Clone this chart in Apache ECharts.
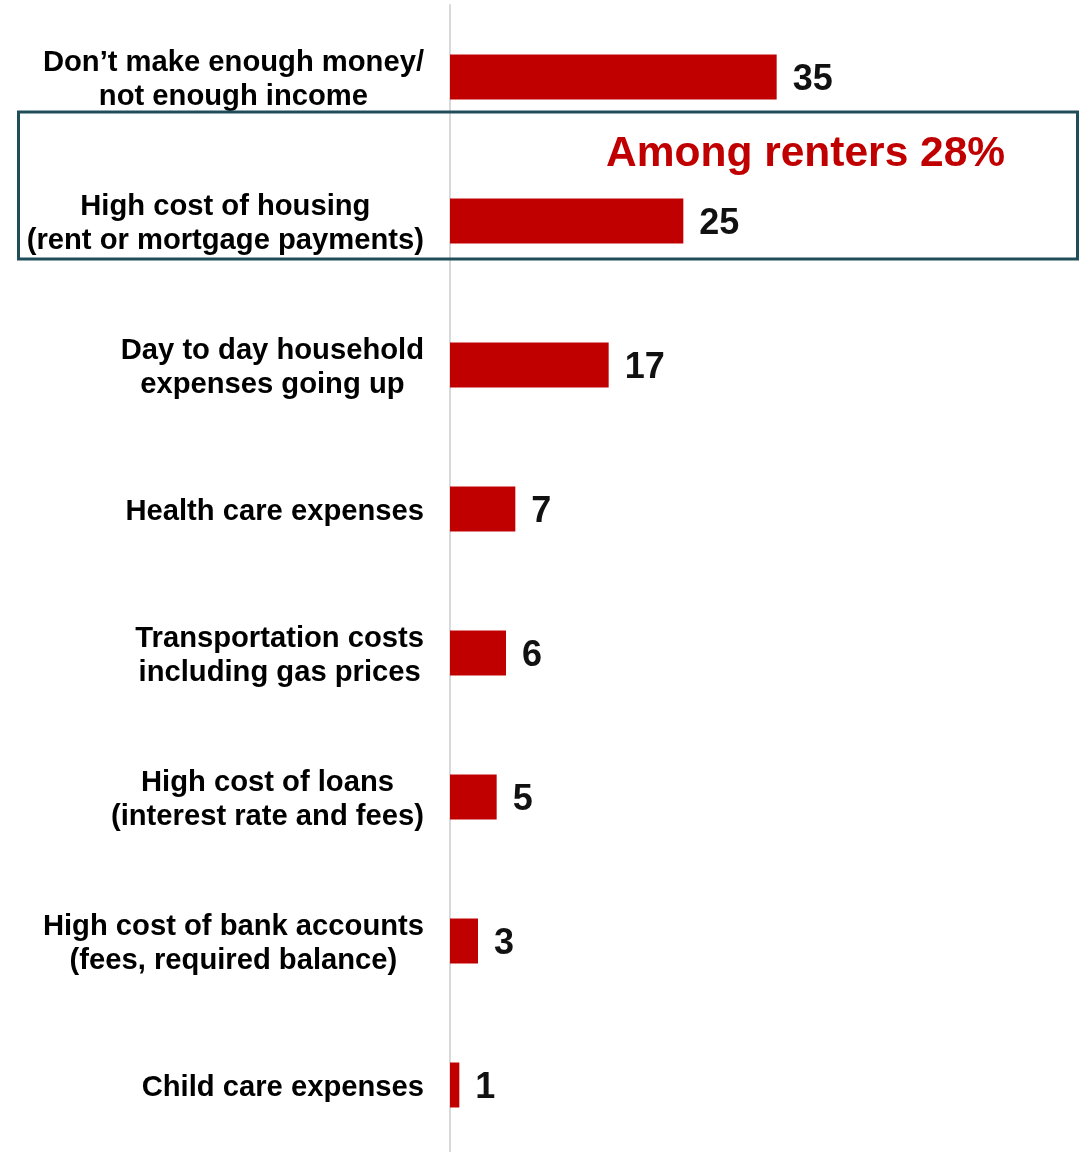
<!DOCTYPE html>
<html>
<head>
<meta charset="utf-8">
<script src="https://cdn.jsdelivr.net/npm/echarts@6/dist/echarts.min.js"></script>
<style>
  html, body { margin: 0; padding: 0; background: #fff; overflow: hidden; }
  /* canvas runs slightly past the bottom edge so the last band keeps its full height */
  #chart { width: 1089px; height: 1160px; }
</style>
</head>
<body>
<div id="chart"></div>
<script>
// Reasons cited for financial strain (% of respondents)
const categories = [
  'Don\u2019t make enough money/\nnot enough income',
  'High cost of housing\n(rent or mortgage payments)',
  'Day to day household\nexpenses going up',
  'Health care expenses',
  'Transportation costs\nincluding gas prices',
  'High cost of loans\n(interest rate and fees)',
  'High cost of bank accounts\n(fees, required balance)',
  'Child care expenses'
];
const values = [35, 25, 17, 7, 6, 5, 3, 1];

// Callout for the housing row
const highlightCategory = 'High cost of housing\n(rent or mortgage payments)';
const highlightText = 'Among renters 28%';

const FONT = '"Liberation Sans", Arial, Helvetica, sans-serif';
const RED = '#C00000';

const chart = echarts.init(document.getElementById('chart'), null, { renderer: 'canvas' });

chart.setOption({
  animation: false,
  backgroundColor: '#ffffff',
  grid: { left: 450, top: 5, width: 560, height: 1152, containLabel: false },
  xAxis: {
    type: 'value',
    min: 0,
    max: 60,
    show: false
  },
  yAxis: {
    type: 'category',
    data: categories,
    inverse: true,
    axisLine: { show: true, lineStyle: { color: '#d9d9d9', width: 2 } },
    axisTick: { show: false },
    splitLine: { show: false },
    axisLabel: {
      margin: 26,
      formatter: function (v) { return '{c|' + v + '}'; },
      rich: {
        c: {
          align: 'center',
          fontFamily: FONT,
          fontWeight: 'bold',
          fontSize: 29.2,
          lineHeight: 34,
          padding: [6, 0, 0, 0],
          color: '#000000'
        }
      }
    }
  },
  series: [{
    type: 'bar',
    data: values,
    barWidth: 45,
    itemStyle: { color: RED },
    label: {
      show: true,
      position: 'right',
      distance: 16,
      offset: [0, 3],
      fontFamily: FONT,
      fontWeight: 'bold',
      fontSize: 36,
      color: '#111111'
    }
  }]
});

// Outline box and callout text anchored to the housing row
const cy = chart.convertToPixel({ yAxisIndex: 0 }, highlightCategory);
chart.setOption({
  graphic: [
    {
      type: 'rect',
      shape: { x: 18.5, y: cy - 109, width: 1059, height: 147 },
      style: { fill: 'none', stroke: '#1F4E5A', lineWidth: 3 },
      z: 10
    },
    {
      type: 'text',
      x: 606,
      y: cy - 67,
      style: {
        text: highlightText,
        fontFamily: FONT,
        fontWeight: 'bold',
        fontSize: 42.5,
        fill: RED,
        textAlign: 'left',
        textVerticalAlign: 'middle'
      },
      z: 10
    }
  ]
});
</script>
</body>
</html>
